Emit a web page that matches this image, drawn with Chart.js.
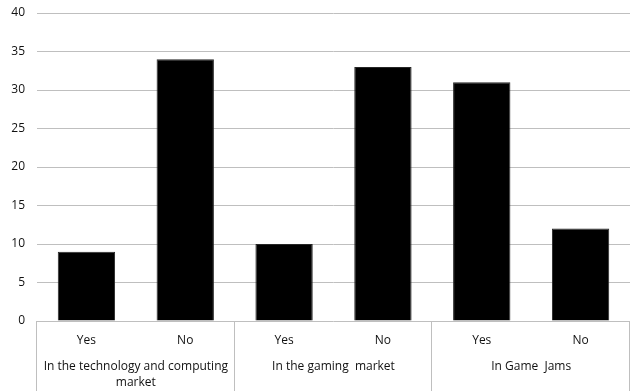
<!DOCTYPE html>
<html>
<head>
<meta charset="utf-8">
<script src="https://cdn.jsdelivr.net/npm/chart.js@4.4.0/dist/chart.umd.min.js"></script>
<style>
  html, body { margin: 0; padding: 0; background: #fff; }
  #wrap { width: 630px; height: 391px; }
</style>
</head>
<body>
<div id="wrap"><canvas id="myChart" width="630" height="391"></canvas></div>
<script>
const answers = ['Yes', 'No', 'Yes', 'No', 'Yes', 'No'];
const responses = [9, 34, 10, 33, 31, 12];
const groups = [['In the technology and computing', 'market'], ['In the gaming  market'], ['In Game  Jams']];
const groupSize = 2;

const fontFamily = "'Open Sans', 'Noto Sans', sans-serif";

// group labels and separator lines under the x axis
const groupAxis = {
    id: 'groupAxis',
    afterDraw(chart) {
        const ctx = chart.ctx;
        const x = chart.scales.x;
        const top = chart.chartArea.bottom;
        const half = (x.getPixelForValue(1) - x.getPixelForValue(0)) / 2;
        ctx.save();
        ctx.strokeStyle = '#bfbfbf';
        ctx.lineWidth = 1;
        for (let g = 0; g <= groups.length; g++) {
            let px = g < groups.length
                ? x.getPixelForValue(g * groupSize) - half
                : x.getPixelForValue(g * groupSize - 1) + half;
            px = Math.round(px) - 0.5;
            ctx.beginPath();
            ctx.moveTo(px, top);
            ctx.lineTo(px, chart.height);
            ctx.stroke();
        }
        ctx.fillStyle = '#111';
        ctx.font = '12px ' + fontFamily;
        ctx.textAlign = 'center';
        ctx.textBaseline = 'middle';
        groups.forEach((lines, g) => {
            const cx = (x.getPixelForValue(g * groupSize) + x.getPixelForValue(g * groupSize + 1)) / 2;
            lines.forEach((line, i) => {
                ctx.fillText(line, cx, top + 46 + i * 16);
            });
        });
        ctx.restore();
    }
};

const ctx = document.getElementById('myChart').getContext('2d');
new Chart(ctx, {
    type: 'bar',
    data: {
        labels: answers,
        datasets: [{
            data: responses,
            backgroundColor: '#000',
            borderColor: '#262626',
            borderWidth: 1,
            categoryPercentage: 1,
            barPercentage: 0.58
        }]
    },
    options: {
        responsive: false,
        animation: false,
        layout: { padding: { top: 13, right: 0, left: 0, bottom: 0 } },
        plugins: {
            legend: { display: false },
            tooltip: { enabled: false }
        },
        scales: {
            x: {
                grid: { display: false },
                border: { display: false },
                ticks: {
                    color: '#111',
                    font: { size: 12, family: fontFamily },
                    padding: 4,
                    maxRotation: 0
                },
                afterFit(scale) { scale.height = 70; }
            },
            y: {
                min: 0,
                max: 40,
                ticks: {
                    stepSize: 5,
                    color: '#111',
                    font: { size: 12, family: fontFamily },
                    padding: 12
                },
                grid: { color: '#bfbfbf', drawTicks: false },
                border: { display: false },
                afterFit(scale) {
                    scale.width = 37;
                    scale.paddingTop = 0;
                    scale.paddingBottom = 0;
                }
            }
        }
    },
    plugins: [groupAxis]
});
</script>
</body>
</html>
